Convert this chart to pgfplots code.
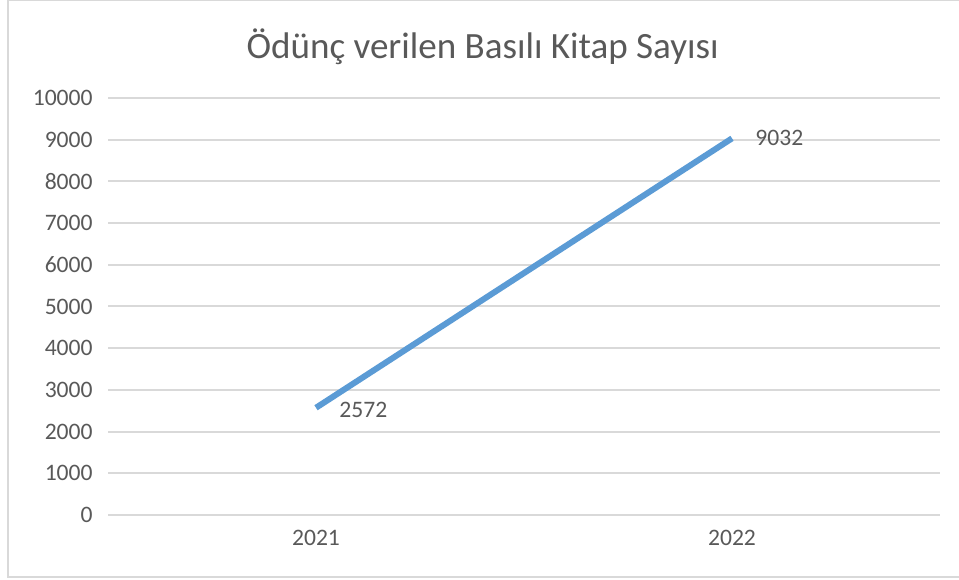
\documentclass[border=0pt]{standalone}
\usepackage{pgfplots}
\pgfplotsset{compat=1.18}
\usepackage{fontspec}
\setmainfont{Carlito}
\definecolor{txt}{HTML}{595959}
\definecolor{grid}{HTML}{D9D9D9}
\definecolor{line}{HTML}{5B9BD5}
\begin{document}
\begin{tikzpicture}
\path[use as bounding box] (0,0) rectangle (719.25pt,435pt);
\draw[color=grid, line width=1.2pt] (6pt,2.25pt) rectangle (722pt,434.5pt);
\node[text=txt, font=\fontsize{27.8}{32}\selectfont] at (362pt,399.75pt) {Ödünç verilen Basılı Kitap Sayısı};
\begin{axis}[
  at={(81pt,48.75pt)}, anchor=south west,
  scale only axis, width=624pt, height=312.75pt,
  xmin=-0.5, xmax=1.5, ymin=0, ymax=10000,
  xtick={0,1}, xticklabels={2021,2022},
  ytick={0,1000,...,10000},
  scaled y ticks=false,
  axis line style={draw=none},
  tick style={draw=none},
  ymajorgrids, grid style={color=grid, line width=1.5pt},
  tick label style={text=txt, font=\fontsize{17.7}{20}\selectfont},
  /pgf/number format/assume math mode=true,
  /pgf/number format/1000 sep={},
  yticklabel style={xshift=-8pt},
  xticklabel style={yshift=-8pt},
  clip=false,
]
\addplot[color=line, line width=4.5pt] coordinates {(0,2572) (1,9032)}
  node[pos=0, anchor=west, xshift=12pt, yshift=-2pt, text=txt, font=\fontsize{17.7}{20}\selectfont] {2572}
  node[pos=1, anchor=west, xshift=12pt, text=txt, font=\fontsize{17.7}{20}\selectfont] {9032};
\end{axis}
\end{tikzpicture}
\end{document}
